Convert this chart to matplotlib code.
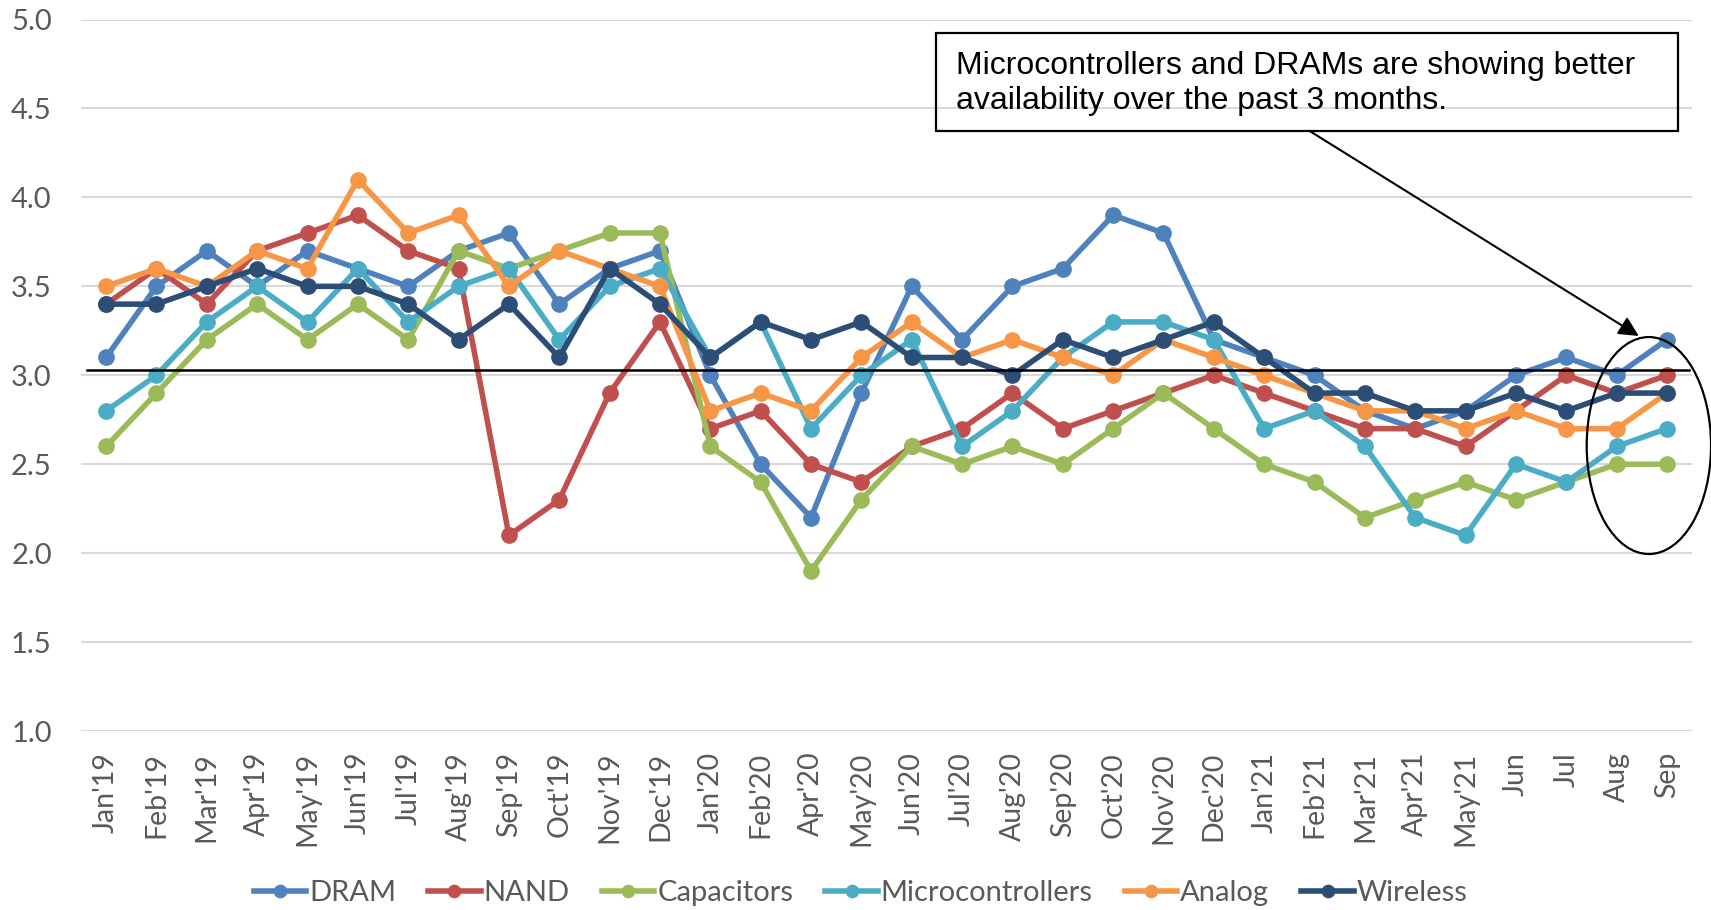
import matplotlib
matplotlib.use("Agg")
from matplotlib import pyplot as plt
from matplotlib.patches import Rectangle, Ellipse

months = ["Jan'19", "Feb'19", "Mar'19", "Apr'19", "May'19", "Jun'19", "Jul'19", "Aug'19",
          "Sep'19", "Oct'19", "Nov'19", "Dec'19", "Jan'20", "Feb'20", "Apr'20", "May'20",
          "Jun'20", "Jul'20", "Aug'20", "Sep'20", "Oct'20", "Nov'20", "Dec'20", "Jan'21",
          "Feb'21", "Mar'21", "Apr'21", "May'21", "Jun", "Jul", "Aug", "Sep"]

dram = [3.1, 3.5, 3.7, 3.5, 3.7, 3.6, 3.5, 3.7, 3.8, 3.4, 3.6, 3.7, 3.0, 2.5, 2.2, 2.9,
        3.5, 3.2, 3.5, 3.6, 3.9, 3.8, 3.2, 3.1, 3.0, 2.8, 2.7, 2.8, 3.0, 3.1, 3.0, 3.2]
nand = [3.4, 3.6, 3.4, 3.7, 3.8, 3.9, 3.7, 3.6, 2.1, 2.3, 2.9, 3.3, 2.7, 2.8, 2.5, 2.4,
        2.6, 2.7, 2.9, 2.7, 2.8, 2.9, 3.0, 2.9, 2.8, 2.7, 2.7, 2.6, 2.8, 3.0, 2.9, 3.0]
capacitors = [2.6, 2.9, 3.2, 3.4, 3.2, 3.4, 3.2, 3.7, 3.6, 3.7, 3.8, 3.8, 2.6, 2.4, 1.9, 2.3,
              2.6, 2.5, 2.6, 2.5, 2.7, 2.9, 2.7, 2.5, 2.4, 2.2, 2.3, 2.4, 2.3, 2.4, 2.5, 2.5]
microcontrollers = [2.8, 3.0, 3.3, 3.5, 3.3, 3.6, 3.3, 3.5, 3.6, 3.2, 3.5, 3.6, 3.1, 3.3, 2.7, 3.0,
                    3.2, 2.6, 2.8, 3.1, 3.3, 3.3, 3.2, 2.7, 2.8, 2.6, 2.2, 2.1, 2.5, 2.4, 2.6, 2.7]
analog = [3.5, 3.6, 3.5, 3.7, 3.6, 4.1, 3.8, 3.9, 3.5, 3.7, 3.6, 3.5, 2.8, 2.9, 2.8, 3.1,
          3.3, 3.1, 3.2, 3.1, 3.0, 3.2, 3.1, 3.0, 2.9, 2.8, 2.8, 2.7, 2.8, 2.7, 2.7, 2.9]
wireless = [3.4, 3.4, 3.5, 3.6, 3.5, 3.5, 3.4, 3.2, 3.4, 3.1, 3.6, 3.4, 3.1, 3.3, 3.2, 3.3,
            3.1, 3.1, 3.0, 3.2, 3.1, 3.2, 3.3, 3.1, 2.9, 2.9, 2.8, 2.8, 2.9, 2.8, 2.9, 2.9]

series = [("DRAM", dram, "#4F81BD"),
          ("NAND", nand, "#C0504D"),
          ("Capacitors", capacitors, "#9BBB59"),
          ("Microcontrollers", microcontrollers, "#4BACC6"),
          ("Analog", analog, "#F79646"),
          ("Wireless", wireless, "#2C4D75")]

ref_level = 3.03
note = "Microcontrollers and DRAMs are showing better\navailability over the past 3 months."

label_font = ["Lato", "DejaVu Sans"]
grey = "#595959"

fig = plt.figure(figsize=(17.11, 9.10), dpi=100)
ax = fig.add_axes([0.0473, 0.1967, 0.9417, 0.7818])

x = list(range(len(months)))
for name, vals, col in series:
    ax.plot(x, vals, color=col, lw=4.0, marker="o", markersize=11, label=name,
            solid_joinstyle="round")

ax.set_xlim(-0.5, len(months) - 0.5)
ax.set_ylim(1.0, 5.0)
ax.set_yticks([1.0, 1.5, 2.0, 2.5, 3.0, 3.5, 4.0, 4.5, 5.0])
ax.set_yticklabels([f"{v:.1f}" for v in ax.get_yticks()], family=label_font,
                   fontsize=21, color=grey)
ax.set_xticks(x)
ax.set_xticklabels(months, rotation=90, family=label_font, fontsize=20.5, color=grey,
                   va="top")
ax.tick_params(axis="both", length=0)
ax.tick_params(axis="x", pad=15)
ax.tick_params(axis="y", pad=21)
ax.grid(axis="y", color="#D9D9D9", lw=1.5)
ax.set_axisbelow(True)
for s in ax.spines.values():
    s.set_visible(False)

# reference line
ax.plot([-0.37, 31.43], [ref_level, ref_level], color="black", lw=1.8, zorder=5,
        clip_on=False)

# note box with arrow
ax.add_patch(Rectangle((16.48, 4.374), 31.21 - 16.48, 4.925 - 4.374, fill=False,
                       edgecolor="black", lw=1.6, zorder=6, clip_on=False))
ax.text(16.88, 4.64, note, ha="left", va="center", fontsize=23,
        family="Liberation Sans", color="black", linespacing=1.2, zorder=7)
ax.annotate("", xy=(30.44, 3.221), xytext=(23.9, 4.374),
            arrowprops=dict(arrowstyle="-|>", color="black", lw=1.5,
                            mutation_scale=30, shrinkA=0, shrinkB=0), zorder=6)
ax.add_patch(Ellipse((30.64, 2.605), 2.47, 1.22, fill=False, edgecolor="black",
                     lw=1.6, zorder=6, clip_on=False))

fig.legend(loc="center", bbox_to_anchor=(0.503, 0.019), ncol=6, frameon=False,
           prop={"family": label_font, "size": 21}, labelcolor=grey,
           handlelength=1.8, handletextpad=0.1, columnspacing=1.1, markerscale=0.8)

fig.savefig("out.png", dpi=100)
